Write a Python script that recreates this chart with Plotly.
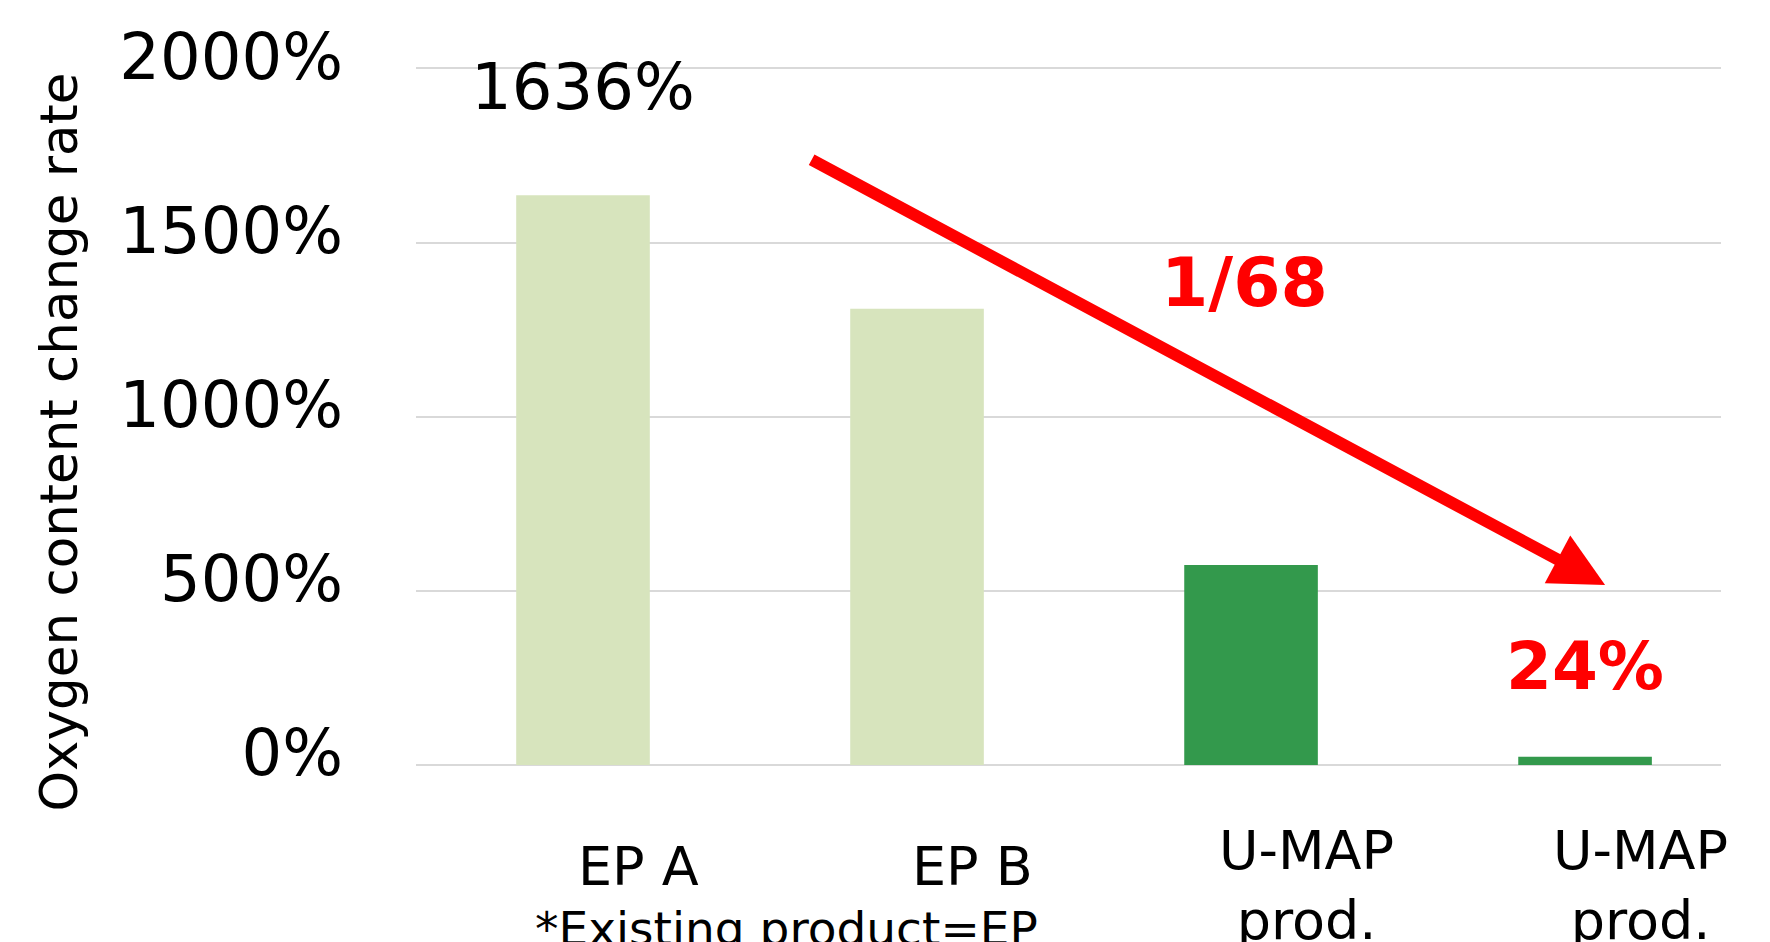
import plotly.graph_objects as go

categories = ["EP A", "EP B", "U-MAP<br>prod.", "U-MAP<br>prod."]
values = [1636, 1310, 574, 24]
bar_colors = ["#D7E4BD", "#D7E4BD", "#33994C", "#33994C"]
y_ticks = [0, 500, 1000, 1500, 2000]
y_tick_labels = ["0%", "500%", "1000%", "1500%", "2000%"]
y_title = "Oxygen content change rate"
footnote = "*Existing product=EP"
ratio_label = "1/68"

FONT = "DejaVu Sans"
x_idx = list(range(len(categories)))

fig = go.Figure()
fig.add_trace(go.Bar(
    x=x_idx, y=values, width=0.4,
    marker=dict(color=bar_colors, line=dict(width=0)),
    hoverinfo="skip", showlegend=False,
))

annotations = []
# category labels (offset to the right as in the original)
for i, c in enumerate(categories):
    two_line = "<br>" in c
    annotations.append(dict(
        x=i, y=0, xref="x", yref="y", text=c, showarrow=False,
        xshift=55, yshift=-120 if two_line else -101,
        yanchor="middle", xanchor="center",
        font=dict(family=FONT, size=54, color="black"),
    ))
# footnote
annotations.append(dict(
    x=0.61, y=0, xref="x", yref="y", text=footnote, showarrow=False,
    yshift=-163, yanchor="middle", xanchor="center",
    font=dict(family=FONT, size=47, color="black"),
))
# value label for first bar
annotations.append(dict(
    x=0, y=values[0], xref="x", yref="y", text=f"{values[0]}%", showarrow=False,
    yshift=108, yanchor="middle",
    font=dict(family=FONT, size=64, color="black"),
))
# value label for last bar
annotations.append(dict(
    x=3, y=values[3], xref="x", yref="y", text=f"<b>{values[3]}%</b>", showarrow=False,
    yshift=90, yanchor="middle",
    font=dict(family=FONT, size=66, color="#FF0000"),
))
# ratio label
annotations.append(dict(
    x=1.98, y=1386, xref="x", yref="y", text=f"<b>{ratio_label}</b>", showarrow=False,
    yanchor="middle",
    font=dict(family=FONT, size=68, color="#FF0000"),
))
# red arrow
annotations.append(dict(
    x=3.06, y=517, ax=0.68, ay=1740, xref="x", yref="y", axref="x", ayref="y",
    text="", showarrow=True, arrowhead=2, arrowsize=0.9, arrowwidth=12,
    arrowcolor="#FF0000", standoff=0, startstandoff=0,
))
# y-axis title
annotations.append(dict(
    x=0, y=926, xref="paper", yref="y", xshift=-357, text=y_title,
    showarrow=False, textangle=-90, xanchor="center", yanchor="middle",
    font=dict(family=FONT, size=51.5, color="black"),
))

fig.update_layout(
    width=1770, height=942,
    margin=dict(l=408, r=57, t=39.5, b=185),
    paper_bgcolor="white", plot_bgcolor="white",
    bargap=0.6,
    font=dict(family=FONT, color="black"),
    annotations=annotations,
    xaxis=dict(range=[-0.5, 3.407], showticklabels=False, showgrid=False,
               zeroline=False, showline=False, ticks=""),
    yaxis=dict(range=[0, 2050], tickvals=y_ticks, ticktext=y_tick_labels,
               showgrid=True, gridcolor="#D9D9D9", gridwidth=2,
               zeroline=True, zerolinecolor="#D9D9D9", zerolinewidth=2,
               showline=False, ticks="",
               tickfont=dict(family=FONT, size=64, color="black"),
               ticklabelstandoff=72, ticklabelshift=-12),
)

fig.write_html("out.html")
